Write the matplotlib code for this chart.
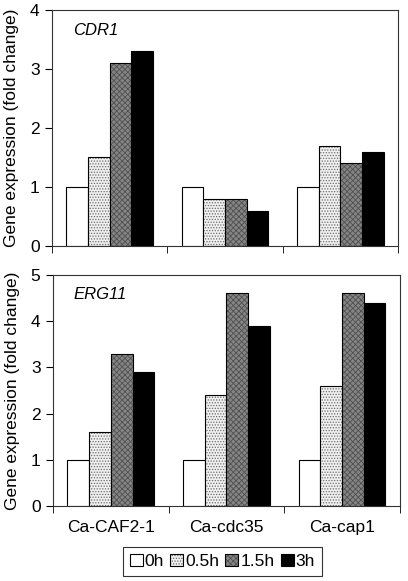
import numpy as np
import matplotlib
matplotlib.use("Agg")
import matplotlib.pyplot as plt

plt.rcParams["font.family"] = ["Liberation Sans", "DejaVu Sans"]
plt.rcParams["hatch.linewidth"] = 0.6

strains = ["Ca-CAF2-1", "Ca-cdc35", "Ca-cap1"]
times = ["0h", "0.5h", "1.5h", "3h"]

cdr1 = {
    "0h": [1.0, 1.0, 1.0],
    "0.5h": [1.5, 0.8, 1.7],
    "1.5h": [3.1, 0.8, 1.4],
    "3h": [3.3, 0.6, 1.6],
}
erg11 = {
    "0h": [1.0, 1.0, 1.0],
    "0.5h": [1.6, 2.4, 2.6],
    "1.5h": [3.3, 4.6, 4.6],
    "3h": [2.9, 3.9, 4.4],
}

# fill, hatch, hatch colour per time point
styles = {
    "0h": ("white", None, "black"),
    "0.5h": ("#f0f0f0", "......", "#6a6a6a"),
    "1.5h": ("#858585", "xxxxxx", "#505050"),
    "3h": ("black", None, "black"),
}

fig = plt.figure(figsize=(4.08, 5.81), dpi=100)
ax1 = fig.add_axes([0.1275, 0.5766, 0.848, 0.4062])
ax2 = fig.add_axes([0.130, 0.129, 0.850, 0.3977])

x = np.arange(len(strains))
width = 0.1875


def draw_panel(ax, data, ymax, gene):
    hs = []
    for i, t in enumerate(times):
        fc, hatch, hc = styles[t]
        pos = x + (i - 1.5) * width
        b1 = ax.bar(pos, data[t], width, color=fc, hatch=hatch,
                    edgecolor=hc, linewidth=0)
        b2 = ax.bar(pos, data[t], width, fill=False,
                    edgecolor="black", linewidth=0.8)
        hs.append((b1, b2))
    ax.set_xlim(-0.5, 2.5)
    ax.set_ylim(0, ymax)
    ax.set_yticks(range(0, ymax + 1))
    ax.set_xticks(x)
    ax.set_xticks(np.arange(-0.5, 3, 1), minor=True)
    ax.tick_params(axis="x", which="major", length=0, labelsize=12.5, pad=10)
    ax.tick_params(axis="x", which="minor", length=5, direction="out")
    ax.tick_params(axis="y", length=5, direction="out", labelsize=12.5, pad=4)
    for s in ax.spines.values():
        s.set_linewidth(0.8)
        s.set_color("#333333")
    ax.set_ylabel("Gene expression (fold change)", fontsize=12.5, labelpad=8)
    ax.text(0.06, 0.915, gene, transform=ax.transAxes, fontsize=12,
            style="italic", va="center", ha="left")
    return hs


handles = draw_panel(ax1, cdr1, 4, "CDR1")
ax1.set_xticklabels([])
draw_panel(ax2, erg11, 5, "ERG11")
ax2.set_xticklabels(strains)

leg = fig.legend(handles, times, loc="center", bbox_to_anchor=(0.545, 0.034),
                 ncol=4, fontsize=12.5, frameon=True, fancybox=False,
                 edgecolor="black", handlelength=0.75, handleheight=0.75,
                 handletextpad=0.12, columnspacing=0.35, borderpad=0.4,
                 borderaxespad=0)
leg.get_frame().set_linewidth(0.8)

fig.savefig("out.png", dpi=100)
